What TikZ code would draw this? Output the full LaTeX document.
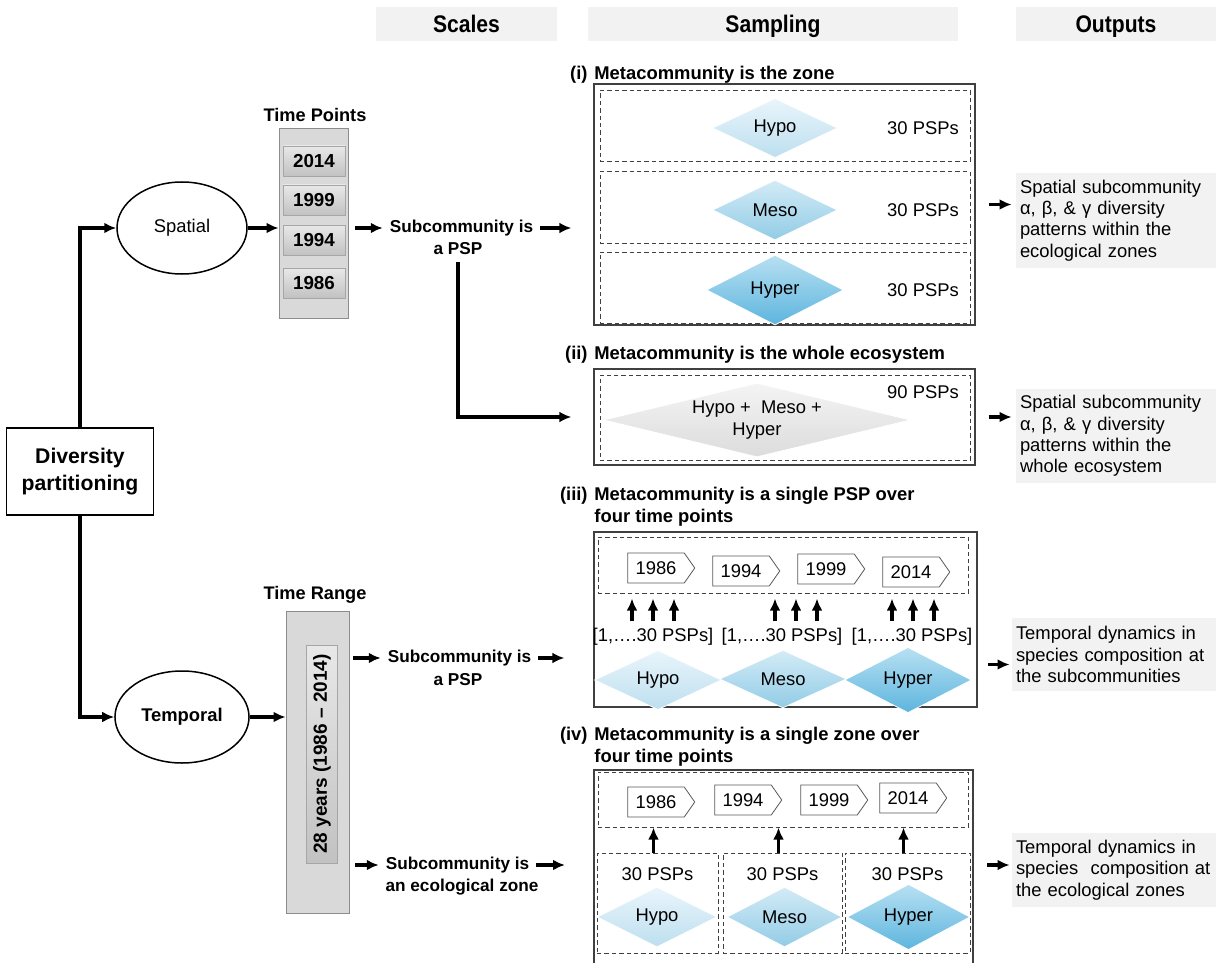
\documentclass[tikz,border=0pt]{standalone}
\usepackage{fontspec}
\setmainfont{Liberation Sans}
\newfontfamily\hdrfont[FakeStretch=0.88]{Liberation Sans}
\usetikzlibrary{shapes.geometric,shapes.symbols,arrows.meta}

\definecolor{hdrgray}{HTML}{F2F2F2}
\definecolor{panelgray}{HTML}{D9D9D9}
\definecolor{hypotop}{HTML}{E9F5FB}
\definecolor{hypobot}{HTML}{BDDFEF}
\definecolor{mesotop}{HTML}{D3EBF6}
\definecolor{mesobot}{HTML}{92CCE6}
\definecolor{hypertop}{HTML}{B8E0F2}
\definecolor{hyperbot}{HTML}{5DB5DE}
\definecolor{alltop}{HTML}{F4F4F4}
\definecolor{allbot}{HTML}{DCDCDC}

\begin{document}
\begin{tikzpicture}[x=0.5pt,y=-0.5pt]
    \tikzset{>={Latex[length=6pt,width=5.4pt]}}
    \tikzset{
        hdr/.style={fill=hdrgray, minimum height=17pt, inner ysep=0.5pt, text height=10pt, text depth=1.5pt, font=\hdrfont\fontsize{12}{13}\selectfont\bfseries},
        lbl/.style={font=\fontsize{8.6}{10.8}\selectfont\bfseries, align=center},
        ttl/.style={font=\fontsize{9.2}{11}\selectfont\bfseries, inner sep=0pt, align=left},
        txt/.style={font=\fontsize{9.2}{10.8}\selectfont},
        conn/.style={->, line width=1.6pt},
        panel/.style={draw=black!75, line width=0.6pt},
        dbox/.style={draw=black!75, dashed, dash pattern=on 2.2pt off 1.5pt, line width=0.5pt},
        zone/.style={diamond, draw=white, line width=0.4pt, inner sep=0pt, top color=#1top, bottom color=#1bot, txt},
        yrbtn/.style={draw=gray!70, top color=gray!18, bottom color=gray!48, minimum width=31pt, minimum height=15pt, font=\fontsize{9.4}{11}\selectfont\bfseries},
        yrtag/.style={signal, signal to=east, signal pointer angle=110, draw=black!65, fill=white, minimum width=33.5pt, minimum height=15pt, inner xsep=2pt, txt},
        outbox/.style={fill=hdrgray, align=left, inner xsep=2pt, font=\fontsize{9.2}{10.7}\selectfont}
    }
    \useasboundingbox (0,0) rectangle (1216,963);

    \node[hdr, minimum width=90.5pt] (hscl) at (466.5,24) {Scales};
    \node[hdr, minimum width=185pt] (hsmp) at (773,24) {Sampling};
    \node[hdr, minimum width=100pt] (hout) at (1116,24) {Outputs};

    \node[draw, line width=0.75pt, minimum width=73.5pt, minimum height=43.5pt, align=center, font=\fontsize{10.6}{13.5}\selectfont\bfseries] (div) at (80,471.5) {Diversity\\partitioning};
    \node[ellipse, draw, line width=0.75pt, minimum width=65pt, minimum height=46pt, txt] (spa) at (182,228) {Spatial};
    \node[ellipse, draw, line width=0.75pt, minimum width=65pt, minimum height=46pt, txt, font=\fontsize{9.2}{10.8}\selectfont\bfseries] (tmp) at (182,717) {Temporal};
    \draw[conn] (div.north) |- (spa.west);
    \draw[conn] (div.south) |- (tmp.west);

    % scales
    \node[draw=black!45, fill=panelgray, minimum width=34.5pt, minimum height=95pt] (tp) at (313.5,223) {};
    \node[lbl, font=\fontsize{9.1}{11}\selectfont\bfseries] (tplbl) at (315,115) {Time Points};
    \foreach \yr/\yy in {2014/161,1999/200,1994/240,1986/283}
        \node[yrbtn] (tp\yr) at (314,\yy) {\yr};
    \draw[conn] (spa.east) -- (spa.east -| tp.west);

    \node[draw=black!45, fill=panelgray, minimum width=31.5pt, minimum height=151pt] (tr) at (317.5,762) {};
    \node[lbl, font=\fontsize{9.1}{11}\selectfont\bfseries] (trlbl) at (315,595) {Time Range};
    \node[yrbtn, rotate=90, minimum width=109pt, minimum height=15pt, font=\fontsize{9.5}{11}\selectfont\bfseries] (trbtn) at (322,754) {28 years (1986 -- 2014)};
    \draw[conn] (tmp.east) -- (tmp.east -| tr.west);

    \node[lbl] (sub1) at (461.5,228) {Subcommunity is};
    \node[lbl] (sub1b) at (458,249) {a PSP};
    \node[lbl] (sub2) at (459.5,658) {Subcommunity is};
    \node[lbl] (sub2b) at (458,680) {a PSP};
    \node[lbl] (sub3) at (457.5,865) {Subcommunity is};
    \node[lbl] (sub3b) at (462,887) {an ecological zone};
    \draw[conn, shorten <=3.5pt] (sub1.west -| tp.east) -- (sub1.west);
    \draw[conn, shorten <=2pt] (sub2.west -| tr.east) -- (sub2.west);
    \draw[conn, shorten <=3pt] (sub3.west -| tr.east) -- (sub3.west);

    % (i)
    \node[ttl, anchor=north west] (tit1) at (594,65.5) {Metacommunity is the zone};
    \node[ttl, anchor=north east] (num1) at ([xshift=-3pt]tit1.north west) {(i)};
    \node[panel, minimum width=190.5pt, minimum height=120.5pt] (boxi) at (784.5,204.5) {};
    \foreach \r/\ry in {1/126,2/207.5,3/287.5}
        \node[dbox, minimum width=185pt, minimum height=35.5pt] (rowi\r) at (785,\ry) {};
    \node[zone=hypo, minimum width=62.5pt, minimum height=29pt] (hypoi) at (775,128) {Hypo};
    \node[zone=meso, minimum width=62.5pt, minimum height=30pt] (mesoi) at (775,210) {Meso};
    \node[zone=hyper, minimum width=68.5pt, minimum height=35pt] (hyperi) at (775,290) {Hyper};
    \foreach \r/\ry in {1/128,2/210,3/290}
        \node[txt] (npi\r) at (923,\ry) {30 PSPs};
    \draw[conn, shorten >=11pt] (sub1.east) -- (sub1.east -| boxi.west);

    % (ii)
    \node[ttl, anchor=north west] (tit2) at (594,345.5) {Metacommunity is the whole ecosystem};
    \node[ttl, anchor=north east] (num2) at ([xshift=-3pt]tit2.north west) {(ii)};
    \node[panel, minimum width=190.5pt, minimum height=48pt] (boxii) at (784.5,417) {};
    \node[dbox, minimum width=185pt, minimum height=42.5pt] (rowii) at (785,417.5) {};
    \node[zone=all, aspect=4.6, minimum width=153.5pt, minimum height=37pt, align=center] (alli) at (757,420) {Hypo +~ Meso +\\Hyper};
    \node[txt] (npii) at (923,392) {90 PSPs};
    \draw[conn, shorten >=11pt] (sub1b.south) |- (boxii.west);

    % (iii)
    \node[ttl, anchor=north west] (tit3) at (594,486.5) {Metacommunity is a single PSP over\\four time points};
    \node[ttl, anchor=north east] (num3) at ([xshift=-3pt]tit3.north west) {(iii)};
    \node[panel, minimum width=191.5pt, minimum height=87.5pt] (boxiii) at (785.5,619.5) {};
    \node[dbox, minimum width=185pt, minimum height=28pt] (rowiii) at (783,565) {};
    \foreach \yr/\tx/\ty in {1986/656/568,1994/741/571,1999/826/569,2014/911/572}
        \node[yrtag] (tiii\yr) at (\tx,\ty) {\yr};
    \foreach \n/\rx in {1/653,2/782,3/912}
        \node[txt] (rng\n) at (\rx,637) {[1,….30 PSPs]};
    \foreach \n/\c in {1/0,2/14,3/1}
        \foreach \dx in {-21,0,21}
            \draw[conn, shorten >=2.5pt] ([xshift={(\c+\dx)*0.5pt}]rng\n.north) -- ([xshift={(\c+\dx)*0.5pt}]rng\n.north |- rowiii.south);
    \node[zone=hypo, minimum width=63.5pt, minimum height=27pt] (hypoiii) at (658,680) {Hypo};
    \node[zone=meso, minimum width=63.5pt, minimum height=27pt] (mesoiii) at (783,679) {Meso};
    \node[zone=hyper, minimum width=63.5pt, minimum height=27pt] (hyperiii) at (908,680) {Hyper};
    \draw[conn, shorten >=14.5pt] (sub2.east) -- (sub2.east -| boxiii.west);

    % (iv)
    \node[ttl, anchor=north west] (tit4) at (594,726.5) {Metacommunity is a single zone over\\four time points};
    \node[ttl, anchor=north east] (num4) at ([xshift=-3pt]tit4.north west) {(iv)};
    \draw[panel] (594,963) |- (973,770) -- (973,963);
    \coordinate (boxivW) at (594,865);
    \coordinate (boxivE) at (973,865);
    \node[dbox, minimum width=185pt, minimum height=27.5pt] (rowiv) at (783,799.5) {};
    \foreach \yr/\tx/\ty in {1986/656/802,1994/743/800,1999/829/800,2014/908/798}
        \node[yrtag] (tiv\yr) at (\tx,\ty) {\yr};
    \node[dbox, minimum width=60.5pt, minimum height=50pt] (zA) at (657.5,903) {};
    \node[dbox, minimum width=59.5pt, minimum height=50pt] (zB) at (782.5,903) {};
    \node[dbox, minimum width=62.5pt, minimum height=50pt] (zC) at (907.5,903) {};
    \foreach \z in {A,B,C} {
        \node[txt] (np\z) at ([yshift=-11pt]z\z.north) {30 PSPs};
        \draw[conn] ([xshift=-2pt]z\z.north) -- ([xshift=-2pt]z\z.north |- rowiv.south);
    }
    \node[zone=hypo, minimum width=60pt, minimum height=30pt] (hypoiv) at (657,917) {Hypo};
    \node[zone=meso, minimum width=57.5pt, minimum height=30pt] (mesoiv) at (784.5,917) {Meso};
    \node[zone=hyper, minimum width=61.5pt, minimum height=30pt] (hyperiv) at (908.5,917) {Hyper};
    \draw[conn, shorten >=14.5pt] (sub3.east) -- (sub3.east -| boxivW);

    % outputs
    \node[outbox, text width=96pt, minimum height=47.5pt] (out1) at (1116,220.5) {Spatial subcommunity\\α, β, \& γ diversity\\patterns within the\\ecological zones};
    \node[outbox, text width=96pt, minimum height=46pt] (out2) at (1116,436) {Spatial subcommunity\\α, β, \& γ diversity\\patterns within the\\whole ecosystem};
    \node[outbox, text width=98pt, minimum height=36.5pt] (out3) at (1114,654.5) {Temporal dynamics in\\species composition at\\the subcommunities};
    \node[outbox, text width=98pt, minimum height=37pt] (out4) at (1114,870) {Temporal dynamics in\\species~ composition at\\the ecological zones};
    \draw[conn, shorten <=6.5pt, shorten >=2pt] (boxi.east) -- (boxi.east -| out1.west);
    \draw[conn, shorten <=6.5pt, shorten >=2pt] (boxii.east) -- (boxii.east -| out2.west);
    \draw[conn, shorten <=5pt, shorten >=1pt] ([yshift=-5pt]out3.west -| boxiii.east) -- ([yshift=-5pt]out3.west);
    \draw[conn, shorten <=7pt, shorten >=1pt] ([yshift=2.5pt]out4.west -| boxivE) -- ([yshift=2.5pt]out4.west);
\end{tikzpicture}
\end{document}
